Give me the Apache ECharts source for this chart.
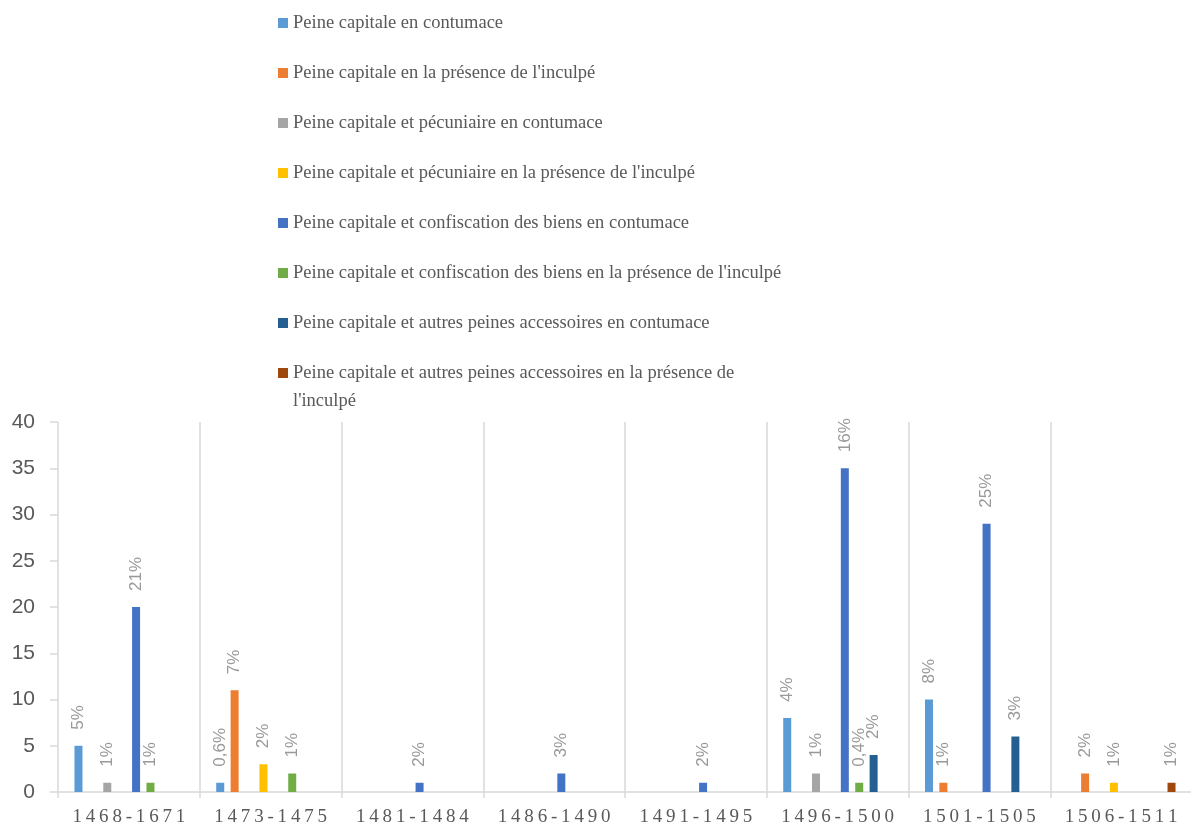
<!DOCTYPE html>
<html>
<head>
<meta charset="utf-8">
<script src="https://cdn.jsdelivr.net/npm/echarts@6/dist/echarts.min.js"></script>
<style>
  html, body { margin: 0; padding: 0; background: #ffffff; }
  #chart { width: 1191px; height: 827px; }
</style>
</head>
<body>
<div id="chart"></div>
<script>
// Periods (x axis)
const categories = ['1468-1671', '1473-1475', '1481-1484', '1486-1490', '1491-1495', '1496-1500', '1501-1505', '1506-1511'];

// Series names
const seriesNames = [
  'Peine capitale en contumace',
  "Peine capitale en la présence de l'inculpé",
  'Peine capitale et pécuniaire en contumace',
  "Peine capitale et pécuniaire en la présence de l'inculpé",
  'Peine capitale et confiscation des biens en contumace',
  "Peine capitale et confiscation des biens en la présence de l'inculpé",
  'Peine capitale et autres peines accessoires en contumace',
  "Peine capitale et autres peines accessoires en la présence de l'inculpé"
];

// Counts per period, one array per series
const contumace          = [5, 1, null, null, null, 8, 10, null];
const presence           = [null, 11, null, null, null, null, 1, 2];
const pecContumace       = [1, null, null, null, null, 2, null, null];
const pecPresence        = [null, 3, null, null, null, null, null, 1];
const confContumace      = [20, null, 1, 2, 1, 35, 29, null];
const confPresence       = [1, 2, null, null, null, 1, null, null];
const autresContumace    = [null, null, null, null, null, 4, 6, null];
const autresPresence     = [null, null, null, null, null, null, null, 1];

// Percentage labels shown above each bar
const contumaceLbl       = ['5%', '0,6%', null, null, null, '4%', '8%', null];
const presenceLbl        = [null, '7%', null, null, null, null, '1%', '2%'];
const pecContumaceLbl    = ['1%', null, null, null, null, '1%', null, null];
const pecPresenceLbl     = [null, '2%', null, null, null, null, null, '1%'];
const confContumaceLbl   = ['21%', null, '2%', '3%', '2%', '16%', '25%', null];
const confPresenceLbl    = ['1%', '1%', null, null, null, '0,4%', null, null];
const autresContumaceLbl = [null, null, null, null, null, '2%', '3%', null];
const autresPresenceLbl  = [null, null, null, null, null, null, null, '1%'];

// Y axis ticks
const yMin = 0, yMax = 40, yStep = 5;

const values = [contumace, presence, pecContumace, pecPresence, confContumace, confPresence, autresContumace, autresPresence];
const labels = [contumaceLbl, presenceLbl, pecContumaceLbl, pecPresenceLbl, confContumaceLbl, confPresenceLbl, autresContumaceLbl, autresPresenceLbl];
const colors = ['#5B9BD5', '#ED7D31', '#A5A5A5', '#FFC000', '#4472C4', '#70AD47', '#255E91', '#9E480E'];

const legendText = {
  fontFamily: 'Liberation Serif',
  fontSize: 18.5,
  lineHeight: 28,
  color: '#595959'
};
const legendCommon = {
  orient: 'vertical',
  left: 278,
  padding: 0,
  itemWidth: 10,
  itemHeight: 10,
  itemGap: 22,
  icon: 'rect',
  textStyle: legendText
};

// Long entry: last word moves to a second line, first line stays level with the swatch
// (an empty leading line keeps the centred block aligned on the swatch).
function wrapLastWord(name) {
  const k = name.lastIndexOf(' ');
  return '\n' + name.slice(0, k) + '\n' + name.slice(k + 1);
}

// Spaced-out period labels (thin spaces between characters)
function spaced(v) {
  return v.split('').join('\u2009');
}

const chart = echarts.init(document.getElementById('chart'), null, { renderer: 'canvas' });

chart.setOption({
  backgroundColor: '#ffffff',
  animation: false,
  color: colors,
  legend: [
    Object.assign({}, legendCommon, { top: 9, data: seriesNames.slice(0, 7) }),
    Object.assign({}, legendCommon, { top: 331, data: seriesNames.slice(7), formatter: wrapLastWord })
  ],
  grid: { left: 58, width: 1134, top: 422, bottom: 35, containLabel: false, outerBoundsMode: 'none' },
  xAxis: {
    type: 'category',
    data: categories,
    axisLine: { lineStyle: { color: '#d9d9d9', width: 1.5 } },
    axisTick: { show: true, alignWithLabel: false, length: 6, lineStyle: { color: '#d9d9d9', width: 1.5 } },
    splitLine: { show: true, interval: 0, lineStyle: { color: '#d9d9d9', width: 1.5 } },
    axisLabel: {
      interval: 0,
      margin: 16,
      fontFamily: 'Liberation Serif',
      fontSize: 19,
      color: '#595959',
      formatter: spaced
    }
  },
  yAxis: {
    type: 'value',
    min: yMin,
    max: yMax,
    interval: yStep,
    axisLine: { show: false },
    axisTick: { show: true, length: 8, lineStyle: { color: '#d9d9d9', width: 1.5 } },
    splitLine: { show: false },
    axisLabel: {
      margin: 23,
      fontFamily: 'Liberation Sans',
      fontSize: 21,
      color: '#595959'
    }
  },
  series: values.map((vals, i) => ({
    name: seriesNames[i],
    type: 'bar',
    data: vals,
    barWidth: 8,
    barGap: '80%',
    itemStyle: { color: colors[i] },
    label: {
      show: true,
      position: 'top',
      rotate: 90,
      align: 'left',
      verticalAlign: 'middle',
      distance: 16,
      fontFamily: 'Liberation Sans',
      fontSize: 17,
      color: '#999999',
      formatter: p => labels[i][p.dataIndex] || ''
    }
  }))
});
</script>
</body>
</html>
